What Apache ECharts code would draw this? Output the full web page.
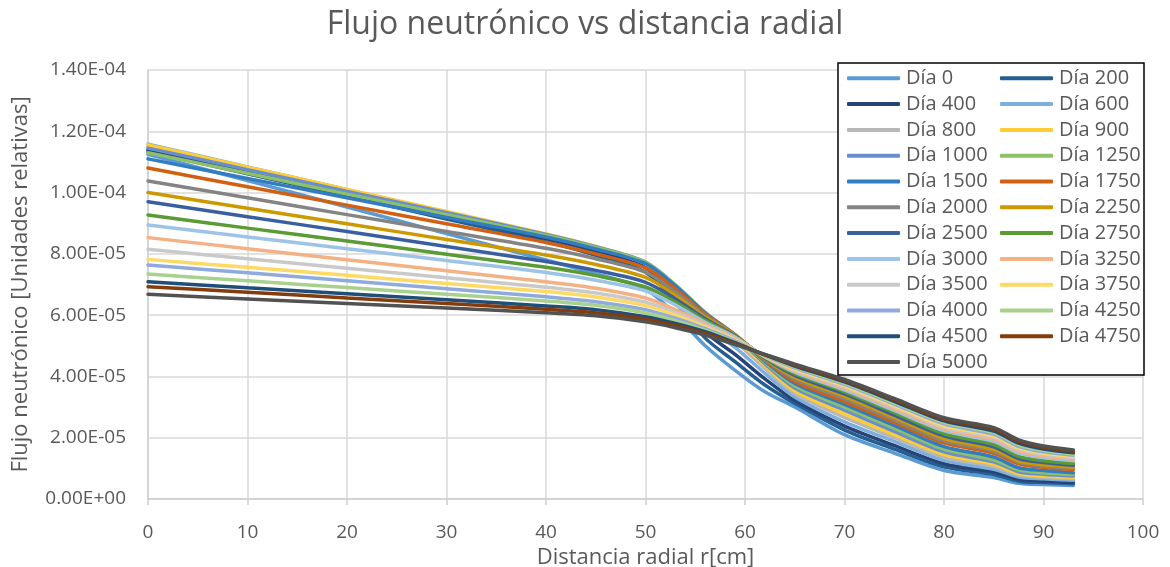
<!DOCTYPE html>
<html>
<head>
<meta charset="utf-8">
<script src="https://cdn.jsdelivr.net/npm/echarts@6/dist/echarts.min.js"></script>
<style>
  html, body { margin: 0; padding: 0; background: #ffffff; }
  #chart { width: 1170px; height: 567px; }
</style>
</head>
<body>
<div id="chart"></div>
<script>
// Radial positions (cm) where the flux was sampled
const radius = [0, 10, 20, 30, 40, 45, 50, 53, 56, 59, 62, 65, 70, 75, 80, 85, 87.5, 90, 93];

// Flux values per burn-up day, in units of 1e-6 (relative units)
const UNIT = 1e-6;
const dia0    = [112.5, 103.9, 95.3, 86.6, 78.0, 73.5, 68.5, 60.2, 50.0, 42.0, 35.0, 30.0, 21.0, 15.0, 9.3, 7.0, 5.1, 4.7, 4.4];
const dia200  = [113.5, 106.1, 98.8, 91.4, 84.0, 79.5, 74.0, 64.3, 52.5, 44.8, 37.2, 31.2, 22.5, 16.3, 10.5, 8.0, 5.8, 5.4, 5.0];
const dia400  = [114.0, 106.8, 99.5, 92.3, 85.0, 80.8, 75.5, 66.0, 54.5, 47.2, 39.2, 32.2, 23.8, 17.5, 11.5, 8.8, 6.5, 5.9, 5.5];
const dia600  = [115.8, 108.4, 100.9, 93.5, 86.0, 81.9, 76.8, 67.7, 56.5, 49.5, 41.0, 33.3, 25.2, 18.8, 12.6, 9.7, 7.2, 6.6, 6.1];
const dia800  = [115.0, 107.8, 100.6, 93.4, 86.2, 82.1, 77.0, 68.7, 58.5, 51.4, 42.6, 34.4, 26.6, 20.0, 13.6, 10.6, 7.8, 7.1, 6.6];
const dia900  = [115.5, 108.3, 101.0, 93.8, 86.5, 82.4, 77.3, 69.4, 59.8, 52.5, 43.5, 35.3, 27.8, 21.0, 14.5, 11.3, 8.3, 7.5, 7.0];
const dia1000 = [114.5, 107.5, 100.4, 93.4, 86.3, 82.3, 77.3, 69.8, 60.6, 53.2, 44.1, 36.2, 29.0, 22.1, 15.4, 12.1, 8.9, 8.1, 7.5];
const dia1250 = [113.0, 106.3, 99.5, 92.8, 86.0, 82.1, 77.2, 69.9, 60.9, 53.5, 44.6, 37.0, 30.0, 23.1, 16.3, 12.8, 9.5, 8.6, 8.0];
const dia1500 = [111.0, 104.6, 98.3, 91.9, 85.5, 81.6, 76.8, 69.6, 60.7, 53.6, 45.0, 37.7, 30.9, 24.0, 17.1, 13.7, 10.2, 9.3, 8.6];
const dia1750 = [108.0, 101.9, 95.9, 89.8, 83.7, 80.0, 75.4, 68.6, 60.3, 53.6, 45.3, 38.4, 31.8, 25.0, 18.3, 14.9, 11.5, 10.3, 9.6];
const dia2000 = [103.8, 98.3, 92.8, 87.3, 81.8, 78.4, 74.0, 67.6, 59.8, 53.5, 45.6, 39.1, 32.7, 25.8, 19.0, 15.6, 12.0, 10.8, 10.0];
const dia2250 = [100.0, 94.9, 89.8, 84.7, 79.6, 76.5, 72.3, 66.5, 59.3, 53.4, 45.8, 39.7, 33.5, 26.6, 19.7, 16.2, 12.4, 11.2, 10.4];
const dia2500 = [97.0, 92.1, 87.3, 82.4, 77.5, 74.6, 70.7, 65.3, 58.8, 53.2, 46.0, 40.3, 34.3, 27.4, 20.6, 17.0, 13.2, 11.9, 11.0];
const dia2750 = [92.7, 88.4, 84.2, 79.9, 75.6, 72.9, 69.2, 64.3, 58.3, 53.0, 46.2, 40.9, 35.0, 28.2, 21.3, 17.8, 13.9, 12.5, 11.6];
const dia3000 = [89.4, 85.5, 81.7, 77.8, 73.9, 71.4, 67.9, 63.3, 57.7, 52.8, 46.4, 41.4, 35.6, 28.9, 22.3, 18.8, 15.0, 13.5, 12.5];
const dia3250 = [85.3, 81.7, 78.1, 74.5, 70.9, 68.8, 65.6, 61.8, 57.1, 52.5, 46.5, 41.7, 36.1, 29.5, 22.9, 19.5, 15.6, 14.0, 13.0];
const dia3500 = [81.5, 78.4, 75.3, 72.2, 69.1, 67.2, 64.2, 60.8, 56.6, 52.2, 46.6, 42.1, 36.6, 30.1, 23.5, 20.1, 16.2, 14.6, 13.5];
const dia3750 = [78.2, 75.6, 73.0, 70.3, 67.7, 65.9, 63.1, 60.0, 56.1, 51.9, 46.7, 42.4, 37.0, 30.5, 24.0, 20.6, 16.7, 15.0, 13.9];
const dia4000 = [76.4, 73.8, 71.2, 68.6, 66.0, 64.4, 61.8, 59.0, 55.6, 51.6, 46.8, 42.8, 37.4, 31.0, 24.5, 21.1, 17.2, 15.4, 14.3];
const dia4250 = [73.4, 71.2, 69.0, 66.8, 64.6, 63.2, 60.7, 58.2, 55.1, 51.3, 46.9, 43.1, 37.8, 31.4, 25.0, 21.7, 17.7, 15.9, 14.7];
const dia4500 = [70.9, 68.9, 67.0, 65.0, 63.0, 61.8, 59.5, 57.3, 54.6, 51.0, 47.0, 43.4, 38.2, 31.9, 25.5, 22.2, 18.2, 16.3, 15.1];
const dia4750 = [69.3, 67.5, 65.6, 63.8, 61.9, 60.8, 58.7, 56.6, 54.0, 50.7, 47.1, 43.7, 38.6, 32.4, 26.0, 22.8, 18.8, 16.9, 15.6];
const dia5000 = [66.8, 65.3, 63.8, 62.3, 60.8, 59.8, 57.8, 55.9, 53.5, 50.4, 47.2, 44.0, 39.0, 32.8, 26.5, 23.3, 19.3, 17.3, 16.0];

const seriesNames = ['Día 0', 'Día 200', 'Día 400', 'Día 600', 'Día 800', 'Día 900', 'Día 1000', 'Día 1250',
  'Día 1500', 'Día 1750', 'Día 2000', 'Día 2250', 'Día 2500', 'Día 2750', 'Día 3000', 'Día 3250',
  'Día 3500', 'Día 3750', 'Día 4000', 'Día 4250', 'Día 4500', 'Día 4750', 'Día 5000'];
const seriesValues = [dia0, dia200, dia400, dia600, dia800, dia900, dia1000, dia1250, dia1500, dia1750,
  dia2000, dia2250, dia2500, dia2750, dia3000, dia3250, dia3500, dia3750, dia4000, dia4250, dia4500, dia4750, dia5000];
const seriesColors = ['#5B9BD5', '#255E91', '#264478', '#7CAFDD', '#B7B7B7', '#FFCD33', '#698ED0', '#8CC168',
  '#327DC2', '#D26012', '#848484', '#CC9A00', '#3A5FA0', '#5B9B34', '#9DC3E6', '#F4B183',
  '#C9C9C9', '#FFD966', '#8FAADC', '#A9D18E', '#1F4E79', '#843C0C', '#525252'];

const FONT = '"Open Sans", "Noto Sans", sans-serif';
const TEXT = '#595959';

// Scientific tick labels like 1.40E-04
function sci(v) {
  if (v === 0) return '0.00E+00';
  let e = Math.floor(Math.log10(Math.abs(v)) + 1e-9);
  let m = v / Math.pow(10, e);
  if (Math.abs(m) >= 9.995) { m /= 10; e += 1; }
  return m.toFixed(2) + 'E' + (e < 0 ? '-' : '+') + String(Math.abs(e)).padStart(2, '0');
}

const series = seriesNames.map((name, i) => ({
  name: name,
  type: 'line',
  data: radius.map((r, k) => [r, seriesValues[i][k] * UNIT]),
  smooth: 0.3,
  symbol: 'none',
  color: seriesColors[i],
  lineStyle: { width: 3.5, color: seriesColors[i], cap: 'round' },
  emphasis: { disabled: true },
  z: 2
}));

// Two legend columns, filled row by row
const leftCol = seriesNames.filter((_, i) => i % 2 === 0);
const rightCol = seriesNames.filter((_, i) => i % 2 === 1);
const legendBase = {
  orient: 'vertical',
  top: 65.4,
  padding: 0,
  itemGap: 0,
  itemWidth: 53,
  itemHeight: 4,
  icon: 'roundRect',
  selectedMode: false,
  z: 10,
  textStyle: { fontFamily: FONT, fontSize: 20, color: TEXT, lineHeight: 25.8, padding: [0, 0, 0, 1] }
};

const chart = echarts.init(document.getElementById('chart'), null, { renderer: 'canvas' });
chart.setOption({
  animation: false,
  backgroundColor: '#ffffff',
  title: {
    text: 'Flujo neutrónico vs distancia radial',
    left: 'center',
    top: 4,
    textStyle: { fontFamily: FONT, fontSize: 32, fontWeight: 'normal', color: TEXT }
  },
  grid: { left: 148, right: 27, top: 70, bottom: 68, containLabel: false, outerBoundsMode: 'none' },
  xAxis: {
    type: 'value',
    min: 0, max: 100, interval: 10,
    name: 'Distancia radial r[cm]',
    nameLocation: 'middle',
    nameGap: 48,
    nameTextStyle: { fontFamily: FONT, fontSize: 22, color: TEXT },
    axisLine: { show: true, lineStyle: { color: '#D0D0D0', width: 1.5 } },
    axisTick: { show: true, length: 6, lineStyle: { color: '#D0D0D0', width: 1.5 } },
    axisLabel: { fontFamily: FONT, fontSize: 19, color: TEXT, margin: 24 },
    splitLine: { show: true, lineStyle: { color: '#D9D9D9', width: 1.5 } }
  },
  yAxis: {
    type: 'value',
    min: 0, max: 1.4e-4, interval: 2e-5,
    name: 'Flujo neutrónico [Unidades relativas]',
    nameLocation: 'middle',
    nameGap: 116,
    nameRotate: 90,
    nameTextStyle: { fontFamily: FONT, fontSize: 22, color: TEXT },
    axisLine: { show: true, lineStyle: { color: '#D0D0D0', width: 1.5 } },
    axisTick: { show: false },
    axisLabel: { fontFamily: FONT, fontSize: 19, color: TEXT, margin: 22, formatter: sci },
    splitLine: { show: true, lineStyle: { color: '#D9D9D9', width: 1.5 } }
  },
  legend: [
    Object.assign({}, legendBase, { left: 847, data: leftCol }),
    Object.assign({}, legendBase, { left: 1000, data: rightCol })
  ],
  graphic: [{
    type: 'rect',
    z: 5,
    shape: { x: 838, y: 63, width: 306, height: 312 },
    style: { fill: '#ffffff', stroke: '#000000', lineWidth: 1.5 }
  }],
  series: series
});
</script>
</body>
</html>
